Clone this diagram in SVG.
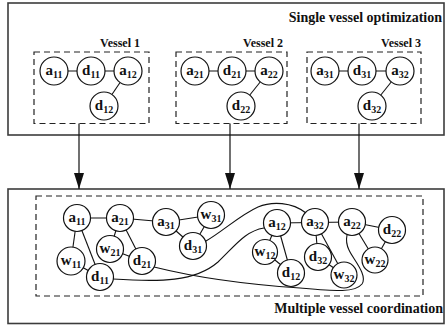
<svg xmlns="http://www.w3.org/2000/svg" width="445" height="325" viewBox="0 0 445 325">
  <style>
    .frame { fill: none; stroke: #3c3c3c; stroke-width: 1.6; }
    .group { fill: none; stroke: #222; stroke-width: 1.2; stroke-dasharray: 6 4; }
    .edge { fill: none; stroke: #111; stroke-width: 1.1; }
    .flow { fill: none; stroke: #111; stroke-width: 1.2; }
    .node circle { fill: #fff; stroke: #111; stroke-width: 1.2; }
    .node text { font-family: "Liberation Serif", "Times New Roman", serif; font-weight: bold; font-size: 15px; fill: #111; text-anchor: middle; }
    .node tspan.sub { font-size: 10px; }
    .title { font-family: "Liberation Serif", "Times New Roman", serif; font-weight: bold; font-size: 14px; fill: #111; text-anchor: end; }
    .label { font-family: "Liberation Serif", "Times New Roman", serif; font-weight: bold; font-size: 12px; fill: #111; text-anchor: end; }
  </style>
  <defs>
    <marker id="arrow" markerWidth="16" markerHeight="10" refX="16" refY="5" orient="auto" markerUnits="userSpaceOnUse" viewBox="0 0 16 10">
      <path d="M0,0 L16,5 L0,10 Z" fill="#111"/>
    </marker>
  </defs>

  <!-- outer frames -->
  <g id="single-frame">
    <rect class="frame" x="8" y="3" width="436" height="132"/>
    <text class="title" x="442" y="22">Single vessel optimization</text>
  </g>
  <g id="multi-frame">
    <rect class="frame" x="8" y="189" width="436" height="134.5"/>
    <text class="title" x="443" y="313">Multiple vessel coordination</text>
  </g>

  <!-- vessel groups -->
  <g id="vessel-1">
    <rect class="group" x="34" y="52" width="115" height="71.5"/>
    <text class="label" x="140" y="47">Vessel 1</text>
  </g>
  <g id="vessel-2">
    <rect class="group" x="176" y="52" width="111" height="71.5"/>
    <text class="label" x="283" y="47">Vessel 2</text>
  </g>
  <g id="vessel-3">
    <rect class="group" x="307" y="52" width="114" height="71.5"/>
    <text class="label" x="421" y="47">Vessel 3</text>
  </g>
  <g id="coordination">
    <rect class="group" x="36" y="196" width="387" height="100"/>
  </g>

  <!-- connectors -->
  <g id="connectors">
    <!-- vessel 1 -->
    <line class="edge" x1="54" y1="71" x2="128" y2="71"/>
    <line class="edge" x1="128" y1="71" x2="104" y2="106"/>
    <!-- vessel 2 -->
    <line class="edge" x1="195" y1="71" x2="269" y2="71"/>
    <line class="edge" x1="269" y1="71" x2="241" y2="106"/>
    <!-- vessel 3 -->
    <line class="edge" x1="325" y1="71" x2="400" y2="71"/>
    <line class="edge" x1="400" y1="71" x2="372" y2="106"/>

    <!-- hand-off arrows -->
    <line class="flow" x1="79" y1="123.5" x2="79" y2="189" marker-end="url(#arrow)"/>
    <line class="flow" x1="230" y1="123.5" x2="230" y2="189" marker-end="url(#arrow)"/>
    <line class="flow" x1="359" y1="123.5" x2="359" y2="189" marker-end="url(#arrow)"/>

    <!-- coordination graph: left cluster -->
    <line class="edge" x1="77" y1="218" x2="120" y2="218"/>
    <line class="edge" x1="77" y1="218" x2="71" y2="261"/>
    <line class="edge" x1="77" y1="218" x2="100" y2="277"/>
    <line class="edge" x1="71" y1="261" x2="100" y2="277"/>
    <line class="edge" x1="120" y1="218" x2="110" y2="249"/>
    <line class="edge" x1="120" y1="218" x2="142" y2="261"/>
    <line class="edge" x1="110" y1="249" x2="142" y2="261"/>
    <line class="edge" x1="120" y1="218" x2="166" y2="222"/>
    <line class="edge" x1="166" y1="222" x2="211" y2="215"/>
    <line class="edge" x1="166" y1="222" x2="193" y2="246"/>
    <line class="edge" x1="211" y1="215" x2="193" y2="246"/>
    <!-- coordination graph: right cluster -->
    <line class="edge" x1="277" y1="223" x2="352" y2="222"/>
    <line class="edge" x1="277" y1="223" x2="265" y2="252"/>
    <line class="edge" x1="277" y1="223" x2="291" y2="273"/>
    <line class="edge" x1="265" y1="252" x2="291" y2="273"/>
    <line class="edge" x1="315" y1="222" x2="318" y2="257"/>
    <line class="edge" x1="315" y1="222" x2="344" y2="275"/>
    <line class="edge" x1="318" y1="257" x2="344" y2="275"/>
    <line class="edge" x1="352" y1="222" x2="392" y2="230"/>
    <line class="edge" x1="352" y1="222" x2="375" y2="260"/>
    <line class="edge" x1="392" y1="230" x2="375" y2="260"/>
    <!-- long links between clusters -->
    <path class="edge" d="M206,241 C222,232 240,215 258,207 C272,201 292,202 306,213"/>
    <path class="edge" d="M113,279 C160,282 195,282 218,262 C235,246 245,231 264,228"/>
    <path class="edge" d="M154,267 C190,276 240,284 300,288 C335,291 355,293 362,284 C368,275 353,259 349,250 C346,244 346,240 347,235"/>
  </g>

  <!-- vessel 1 nodes -->
  <g id="v1-a11" class="node"><circle cx="54" cy="71" r="14"/><text x="54" y="75">a<tspan class="sub" dy="3">11</tspan></text></g>
  <g id="v1-d11" class="node"><circle cx="91" cy="71" r="14"/><text x="91" y="75">d<tspan class="sub" dy="3">11</tspan></text></g>
  <g id="v1-a12" class="node"><circle cx="128" cy="71" r="14"/><text x="128" y="75">a<tspan class="sub" dy="3">12</tspan></text></g>
  <g id="v1-d12" class="node"><circle cx="104" cy="106" r="14"/><text x="104" y="110">d<tspan class="sub" dy="3">12</tspan></text></g>
  <!-- vessel 2 nodes -->
  <g id="v2-a21" class="node"><circle cx="195" cy="71" r="14"/><text x="195" y="75">a<tspan class="sub" dy="3">21</tspan></text></g>
  <g id="v2-d21" class="node"><circle cx="232" cy="71" r="14"/><text x="232" y="75">d<tspan class="sub" dy="3">21</tspan></text></g>
  <g id="v2-a22" class="node"><circle cx="269" cy="71" r="14"/><text x="269" y="75">a<tspan class="sub" dy="3">22</tspan></text></g>
  <g id="v2-d22" class="node"><circle cx="241" cy="106" r="14"/><text x="241" y="110">d<tspan class="sub" dy="3">22</tspan></text></g>
  <!-- vessel 3 nodes -->
  <g id="v3-a31" class="node"><circle cx="325" cy="71" r="14"/><text x="325" y="75">a<tspan class="sub" dy="3">31</tspan></text></g>
  <g id="v3-d31" class="node"><circle cx="362" cy="71" r="14"/><text x="362" y="75">d<tspan class="sub" dy="3">31</tspan></text></g>
  <g id="v3-a32" class="node"><circle cx="400" cy="71" r="14"/><text x="400" y="75">a<tspan class="sub" dy="3">32</tspan></text></g>
  <g id="v3-d32" class="node"><circle cx="372" cy="106" r="14"/><text x="372" y="110">d<tspan class="sub" dy="3">32</tspan></text></g>

  <!-- coordination nodes -->
  <g id="m-a11" class="node"><circle cx="77" cy="218" r="13.5"/><text x="77" y="222">a<tspan class="sub" dy="3">11</tspan></text></g>
  <g id="m-a21" class="node"><circle cx="120" cy="218" r="13.5"/><text x="120" y="222">a<tspan class="sub" dy="3">21</tspan></text></g>
  <g id="m-a31" class="node"><circle cx="166" cy="222" r="13.5"/><text x="166" y="226">a<tspan class="sub" dy="3">31</tspan></text></g>
  <g id="m-w31" class="node"><circle cx="211" cy="215" r="13.5"/><text x="211" y="219">w<tspan class="sub" dy="3">31</tspan></text></g>
  <g id="m-w21" class="node"><circle cx="110" cy="249" r="13.5"/><text x="110" y="253">w<tspan class="sub" dy="3">21</tspan></text></g>
  <g id="m-d31" class="node"><circle cx="193" cy="246" r="13.5"/><text x="193" y="250">d<tspan class="sub" dy="3">31</tspan></text></g>
  <g id="m-d21" class="node"><circle cx="142" cy="261" r="13.5"/><text x="142" y="265">d<tspan class="sub" dy="3">21</tspan></text></g>
  <g id="m-w11" class="node"><circle cx="71" cy="261" r="14"/><text x="71" y="265">w<tspan class="sub" dy="3">11</tspan></text></g>
  <g id="m-d11" class="node"><circle cx="100" cy="277" r="13.5"/><text x="100" y="281">d<tspan class="sub" dy="3">11</tspan></text></g>
  <g id="m-a12" class="node"><circle cx="277" cy="223" r="13.5"/><text x="277" y="227">a<tspan class="sub" dy="3">12</tspan></text></g>
  <g id="m-a32" class="node"><circle cx="315" cy="222" r="13.5"/><text x="315" y="226">a<tspan class="sub" dy="3">32</tspan></text></g>
  <g id="m-a22" class="node"><circle cx="352" cy="222" r="13.5"/><text x="352" y="226">a<tspan class="sub" dy="3">22</tspan></text></g>
  <g id="m-d22" class="node"><circle cx="392" cy="230" r="13.5"/><text x="392" y="234">d<tspan class="sub" dy="3">22</tspan></text></g>
  <g id="m-w12" class="node"><circle cx="265" cy="252" r="12.5"/><text x="265" y="256">w<tspan class="sub" dy="3">12</tspan></text></g>
  <g id="m-d12" class="node"><circle cx="291" cy="273" r="13.5"/><text x="291" y="277">d<tspan class="sub" dy="3">12</tspan></text></g>
  <g id="m-d32" class="node"><circle cx="318" cy="257" r="13.5"/><text x="318" y="261">d<tspan class="sub" dy="3">32</tspan></text></g>
  <g id="m-w32" class="node"><circle cx="344" cy="275" r="13"/><text x="344" y="279">w<tspan class="sub" dy="3">32</tspan></text></g>
  <g id="m-w22" class="node"><circle cx="375" cy="260" r="13"/><text x="375" y="264">w<tspan class="sub" dy="3">22</tspan></text></g>
</svg>
